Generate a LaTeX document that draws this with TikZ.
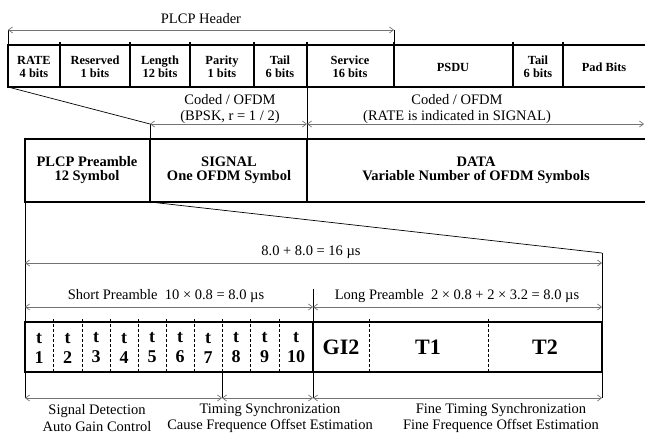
\documentclass[tikz,border=0pt]{standalone}
\usepackage{fontspec}
\setmainfont{Liberation Serif}
\usetikzlibrary{arrows.meta}
\begin{document}
\begin{tikzpicture}[x=1pt,y=-1pt,
  boxline/.style={line width=2.8pt},
  divline/.style={line width=2pt},
  dashdiv/.style={line width=0.9pt, dash pattern=on 3pt off 2pt},
  guide/.style={line width=0.7pt},
  dimarrow/.style={draw=black!55, line width=0.7pt, {Straight Barb[length=4pt,width=6pt]}-{Straight Barb[length=4pt,width=6pt]}},
  lbl/.style={font=\fontsize{14.5}{16.5}\selectfont, inner sep=0pt, align=center},
  fa/.style={font=\fontsize{12.4}{13}\bfseries\selectfont, align=center, inner sep=0pt},
  fb/.style={font=\fontsize{14.5}{14}\bfseries\selectfont, align=center, inner sep=0pt},
  fc/.style={font=\fontsize{18}{20}\bfseries\selectfont, align=center, inner sep=0pt},
  fd/.style={font=\fontsize{22}{24}\bfseries\selectfont, inner sep=0pt},
]
\useasboundingbox (0,0) rectangle (645,435);

% ---------- coordinates ----------
\coordinate (hl) at (8,30);   \coordinate (hr) at (394,30);
\coordinate (tl) at (8,45);   \coordinate (tbl) at (8,87);
\coordinate (sigA) at (150,124); \coordinate (sigB) at (307,124);
\coordinate (sigAt) at (150,139); \coordinate (tailb) at (307,87);
\coordinate (dataR) at (644,124);
\coordinate (ml) at (25,139); \coordinate (mbl) at (25,202);
\coordinate (msb) at (150,202);
\coordinate (fr) at (602,253);
\coordinate (bl) at (25,322); \coordinate (br) at (602,322);
\coordinate (d1l) at (25,263); \coordinate (d1r) at (602,263);
\coordinate (d2l) at (25,307); \coordinate (d2m) at (313,307); \coordinate (d2r) at (602,307);
\coordinate (d2t) at (313,289);
\coordinate (e1) at (25,398); \coordinate (e2) at (222,398); \coordinate (e3) at (313,398); \coordinate (e4) at (602,398);
\coordinate (e2t) at (222,372);
\coordinate (blb) at (25,372); \coordinate (brb) at (602,372);

% ---------- top row ----------
\draw[guide] (hl) -- (tl);
\draw[guide] (hr) -- (394,45);
\draw[dimarrow] (hl) -- node[lbl, above=6pt] (hdr) {PLCP Header} (hr);
\draw[boxline] (8,45) -- (650,45);
\draw[boxline] (8,87) -- (650,87);
\draw[boxline] (8,43.6) -- (8,88.4);
\foreach \x in {60,130,190,254,307,394,513,563}
  \draw[divline] (\x,42) -- (\x,87);
\node[fa] (rate) at (34,67) {RATE\\4 bits};
\node[fa] (res)  at (95,67) {Reserved\\1 bits};
\node[fa] (len)  at (160,67) {Length\\12 bits};
\node[fa] (par)  at (222,67) {Parity\\1 bits};
\node[fa] (tail) at (280,67) {Tail\\6 bits};
\node[fa] (serv) at (350,67) {Service\\16 bits};
\node[fa] (psdu) at (453,67) {PSDU};
\node[fa] (tail2) at (538,67) {Tail\\6 bits};
\node[fa] (pad)  at (604,67) {Pad Bits};

% ---------- expansion to SIGNAL ----------
\draw[guide] (tbl) -- (sigA);
\draw[guide] (tailb) -- (307,139);
\draw[guide] (sigA) -- (sigAt);
\draw[dimarrow] (sigA) -- (sigB);
\draw[dimarrow] (sigB) -- (dataR);
\node[lbl] (cod1) at (230,109) {Coded / OFDM\\(BPSK, r = 1 / 2)};
\node[lbl] (cod2) at (457,109) {Coded / OFDM\\(RATE is indicated in SIGNAL)};

% ---------- middle row ----------
\draw[boxline] (25,139) -- (650,139);
\draw[boxline] (25,202) -- (650,202);
\draw[boxline] (25,137.6) -- (25,203.4);
\draw[boxline] (150,139) -- (150,202);
\draw[boxline] (307,139) -- (307,202);
\node[fb] (pre) at (87,170) {PLCP Preamble\\12 Symbol};
\node[fb] (sig) at (229,170) {SIGNAL\\One OFDM Symbol};
\node[fb] (dat) at (476,170) {DATA\\Variable Number of OFDM Symbols};

% ---------- expansion to preamble ----------
\draw[guide] (mbl) -- (bl);
\draw[guide] (msb) -- (fr);
\draw[guide] (fr) -- (br);
\draw[dimarrow] (d1l) -- (d1r);
\node[lbl] (tot) at (311,252) {8.0 + 8.0 = 16 \textmu s};
\draw[guide] (d2t) -- (313,322);
\draw[dimarrow] (d2l) -- (d2m);
\draw[dimarrow] (d2m) -- (d2r);
\node[lbl] (shp) at (166,296) {Short Preamble\enspace 10 × 0.8 = 8.0 \textmu s};
\node[lbl] (lgp) at (457,296) {Long Preamble\enspace 2 × 0.8 + 2 × 3.2 = 8.0 \textmu s};

% ---------- bottom row ----------
\foreach \x in {53,82,110,138,166,194,222,250,279,369,488}
  \draw[dashdiv] (\x,319) -- (\x,372);
\draw[boxline] (25,322) rectangle (602,372);
\draw[boxline] (313,322) -- (313,372);
\foreach \c/\n [count=\i] in {39/1,67.5/2,96/3,124/4,152/5,180/6,208/7,236/8,264.5/9,296/10}
  \node[fc] (t\i) at (\c,348) {t\\\n};
\node[fd] (gi2) at (341,347) {GI2};
\node[fd] (ta) at (428,347) {T1};
\node[fd] (tb) at (545,347) {T2};

% ---------- bottom dimensions ----------
\draw[guide] (blb) -- (e1);
\draw[guide] (e2t) -- (e2);
\draw[guide] (313,372) -- (e3);
\draw[guide] (brb) -- (e4);
\draw[dimarrow] (e1) -- (e2);
\draw[dimarrow] (e2) -- (e3);
\draw[dimarrow] (e3) -- (e4);
\node[lbl] (sd) at (97,418) {Signal Detection\\Auto Gain Control};
\node[lbl] (ts) at (270,418) {Timing Synchronization\\Cause Frequence Offset Estimation};
\node[lbl] (fts) at (501,418) {Fine Timing Synchronization\\Fine Frequence Offset Estimation};
\end{tikzpicture}
\end{document}
